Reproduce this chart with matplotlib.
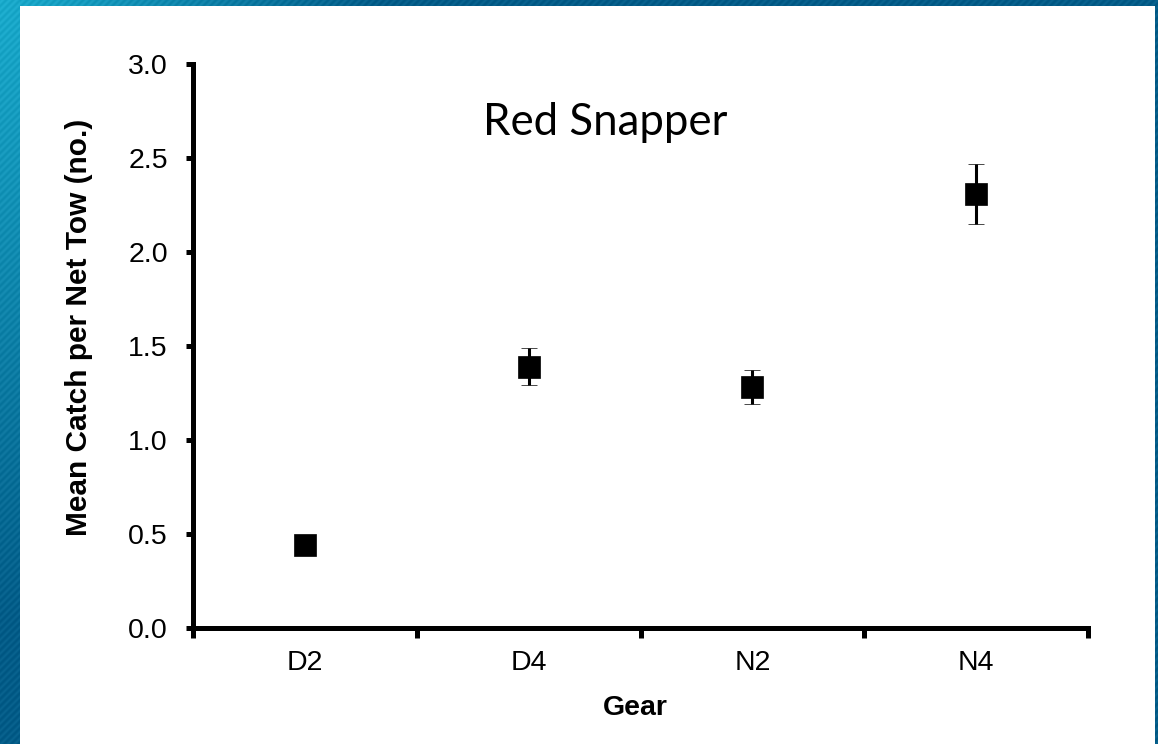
import numpy as np
import matplotlib
matplotlib.use("Agg")
import matplotlib.pyplot as plt
from matplotlib.patches import Rectangle

# ---- data ----
gears = ["D2", "D4", "N2", "N4"]
means = [0.44, 1.39, 1.28, 2.31]
errors = [0.03, 0.10, 0.09, 0.16]
yticks = [0.0, 0.5, 1.0, 1.5, 2.0, 2.5, 3.0]
title_text = "Red Snapper"

W, H = 1158, 744
fig = plt.figure(figsize=(W / 100, H / 100), dpi=100)

# ---- slide background (blue gradient with diagonal stripes) ----
bg = fig.add_axes([0, 0, 1, 1], zorder=-10)
yy, xx = np.mgrid[0:H, 0:W].astype(float)
t = np.clip(np.sqrt((xx / 380.0) ** 2 + (yy / 620.0) ** 2), 0, 1)
light = np.array([0x1a, 0xab, 0xcc]) / 255.0
dark = np.array([0x03, 0x5c, 0x88]) / 255.0
img = light[None, None, :] * (1 - t[..., None]) + dark[None, None, :] * t[..., None]
stripe = 0.025 * np.sin(2 * np.pi * (xx + yy) / 7.0)
img = np.clip(img + stripe[..., None], 0, 1)
bg.imshow(img, extent=[0, W, H, 0], aspect="auto", interpolation="bilinear")
bg.set_xlim(0, W)
bg.set_ylim(H, 0)
bg.axis("off")
bg.add_patch(Rectangle((20, 6), 1155 - 20, H - 6 + 5, facecolor="white", edgecolor="none"))

# ---- main axes ----
ax = fig.add_axes([193 / W, 1 - 628 / H, (1088 - 193) / W, (628 - 64) / H])
ax.patch.set_alpha(0)
xpos = np.arange(len(gears)) + 0.5
ax.errorbar(xpos, means, yerr=errors, fmt="s", color="black", ms=16.5,
            mec="black", mew=0.5, ecolor="black", elinewidth=2.2,
            capsize=5.5, capthick=2.2, zorder=3)

ax.set_xlim(0, len(gears))
ax.set_ylim(0, 3.0)
ax.set_yticks(yticks)
ax.set_yticklabels([f"{v:.1f}" for v in yticks])
ax.set_xticks(np.arange(len(gears) + 1))
ax.set_xticklabels([])
ax.set_xticks(xpos, minor=True)
ax.set_xticklabels(gears, minor=True)

for s in ["top", "right"]:
    ax.spines[s].set_visible(False)
for s in ["left", "bottom"]:
    ax.spines[s].set_linewidth(3.6)
    ax.spines[s].set_capstyle("projecting")

ax.tick_params(axis="y", which="major", direction="out", length=5, width=3.6,
               pad=13, labelsize=20.5)
ax.tick_params(axis="x", which="major", direction="out", length=7, width=3.6)
ax.tick_params(axis="x", which="minor", length=0, pad=16, labelsize=20.5)
for lab in ax.get_yticklabels() + ax.get_xticklabels(minor=True):
    lab.set_family("Liberation Sans")

ax.text(0.46, 2.62, title_text, ha="center", va="baseline",
        fontsize=31.5, family="Lato", transform=ax.get_yaxis_transform())

fig.text(635 / W, 1 - 715 / H, "Gear", ha="center", va="baseline",
         fontsize=20.5, fontweight="bold", family="Liberation Sans")
fig.text(79 / W, 1 - 327 / H, "Mean Catch per Net Tow (no.)", ha="center",
         va="center", rotation=90, fontsize=21.5, fontweight="bold",
         family="Liberation Sans")

fig.savefig("out.png", dpi=100)
